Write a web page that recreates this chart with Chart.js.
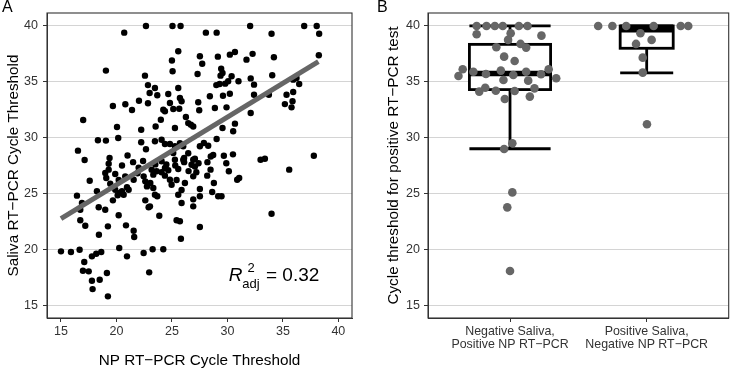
<!DOCTYPE html>
<html><head><meta charset="utf-8">
<script src="https://cdn.jsdelivr.net/npm/chart.js@4.4.1/dist/chart.umd.min.js"></script>
<style>
html,body{margin:0;padding:0;background:#fff;}
#wrap{position:relative;width:733px;height:370px;overflow:hidden;background:#fff;}
canvas{position:absolute;top:0;}
.lab{position:absolute;top:-1px;font:16px "Liberation Sans",Arial,sans-serif;line-height:1;color:#000;}
</style></head><body>
<div id="wrap">
<canvas id="cA" width="366" height="370" style="left:0;width:366px;height:370px"></canvas>
<canvas id="cB" width="367" height="370" style="left:366px;width:367px;height:370px"></canvas>
<div class="lab" style="left:2px">A</div>
<div class="lab" style="left:377px">B</div>
</div>
<script>
// ---- Panel A data: NP vs saliva cycle thresholds ----
const npCt = [20.7,22.66,25.05,25.78,28.06,29.03,32.05,33.98,36.92,38.05,38.27,19.05,22.57,22.84,22.99,19.68,20.8,21.4,22.03,22.84,17.0,20.05,22.23,18.33,19.05,20.16,22.23,22.66,16.53,17.13,19.38,19.3,25.57,27.52,25.0,27.73,29.14,30.22,30.68,31.72,32.27,25.06,27.31,29.44,29.56,29.38,30.38,30.07,29.0,29.3,29.8,31.0,30.22,29.6,28.42,32.1,32.4,32.4,23.47,23.68,24.67,25.57,25.72,25.87,24.82,25.12,25.66,27.37,27.46,28.87,29.92,32.1,24.0,24.37,24.22,26.26,26.47,26.71,26.92,23.53,25.27,29.56,30.68,30.52,23.47,24.07,24.37,24.82,25.27,26.02,27.52,27.88,28.27,29.03,29.68,24.07,25.12,25.27,26.02,26.1,26.92,27.07,34.19,38.24,34.04,33.74,35.93,36.23,36.47,35.33,35.93,35.18,35.87,35.78,32.99,33.38,37.79,35.57,33.98,19.3,18.99,19.08,17.59,19.89,19.44,19.89,20.29,20.11,20.79,20.95,21.55,20.5,20.65,21.1,22.45,22.6,22.75,23.05,16.44,16.89,16.74,18.24,18.4,18.99,19.68,22.6,22.9,16.74,17.19,20.2,19.23,20.86,21.55,21.6,18.42,15.0,15.9,16.68,17.79,18.18,18.63,20.25,20.95,22.45,17.1,16.98,17.5,19.14,17.79,18.49,17.85,19.23,22.95,23.26,24.22,23.32,23.47,23.68,23.02,23.86,25.57,25.87,26.92,25.42,25.72,27.52,25.81,23.17,23.32,23.62,24.07,24.37,24.67,24.37,24.82,24.97,25.57,26.17,26.92,26.77,27.52,27.52,28.18,28.48,28.78,28.63,29.17,29.47,30.13,30.88,31.06,26.92,23.5,24.5,25.3,26.1,27.4,28.5,28.2,21.5,22.0,20.5,21.0,20.2,21.9,22.4,26.5,27.2,29.9,30.5,28.72,25.72,26.47,27.07,25.42,25.87];
const salivaCt = [39.4,40,40,40,39.4,39.4,40,39.3,40,40,39.3,36.0,35.55,34.7,34.0,32.83,32.98,32.47,33.3,33.07,31.58,30.95,30.7,29.76,29.73,29.96,29.58,28.95,28.83,27.99,28.17,27.66,37.73,37.28,36.9,36.62,37.25,37.43,37.67,36.98,37.5,35.94,35.7,36.17,35.79,35.55,35.49,35.04,34.7,34.8,34.83,35.04,33.93,33.75,33.7,35.3,34.74,33.84,34.44,33.79,33.9,34.44,33.55,33.25,33.1,32.56,32.59,33.16,32.45,32.65,32.71,32.2,31.6,32.36,32.5,31.85,31.3,31.16,31.0,31.0,30.86,30.86,31.25,30.57,29.67,29.8,29.43,29.43,29.22,29.22,29.22,29.52,29.27,29.87,28.38,27.88,28.62,28.02,28.02,28.17,28.02,28.11,37.19,37.37,35.58,33.84,35.19,35.34,34.8,33.84,34.09,33.0,33.25,32.71,28.02,28.11,28.38,27.13,23.18,27.13,26.83,26.38,26.14,26.74,25.87,25.33,25.04,24.83,26.53,25.55,26.23,25.19,24.88,25.33,26.53,26.08,25.63,25.93,24.8,24.14,23.54,25.19,23.76,23.54,24.38,24.38,23.76,22.59,22.1,23.04,22.05,22.14,21.66,21.09,21.3,19.81,19.75,19.95,19.36,19.6,19.75,20.11,19.36,19.66,18.85,18.07,18.02,17.87,17.18,17.27,16.43,15.78,17.93,20.0,20.0,25.48,24.88,24.74,23.84,23.0,24.88,24.14,23.84,22.59,22.5,21.99,20.94,27.13,26.68,26.98,26.89,27.28,27.07,26.59,26.23,25.78,27.19,25.93,26.53,27.57,25.4,24.74,26.59,27.13,25.93,25.13,24.74,24.74,26.98,26.23,26.38,24.47,27.6,27.6,27.5,27.8,27.7,28.3,27.8,27.8,27.3,27.5,28.4,26.2,26.8,27.9,27.0,26.9,27.7,28.5,28.44,29.49,28.6,27.4,26.2,25.3];
// fitted regression line
const fitNp = [15.0, 38.2];
const fitSaliva = [22.75, 36.8];
const r2Text = "= 0.32";
// tick labels
const xTicksA = [15, 20, 25, 30, 35, 40];
const yTicks = [15, 20, 25, 30, 35, 40];

// ---- Panel B data ----
const groupLabels = [["Negative Saliva,", "Positive NP RT−PCR"], ["Positive Saliva,", "Negative NP RT−PCR"]];
const groupPos = [0.756,0.828,0.889,0.947,1.065,1.128,0.756,1.005,1.23,0.986,0.9,1.077,1.118,0.957,1.034,0.654,0.732,0.623,0.824,0.933,0.952,1.024,1.118,1.133,1.227,1.283,1.338,0.775,0.819,0.896,1.034,1.179,0.962,1.145,1.017,0.957,1.017,0.98,1.0,
  1.645,1.749,1.85,2.051,2.249,2.304,1.954,1.922,2.036,1.971,1.971,2.002];
const groupCt = [40,40,40,40,40,40,39.25,39.34,39.13,38.75,38.09,38.39,38.06,37.25,36.86,36.12,35.9,35.52,35.7,36.0,35.16,35.61,35.9,35.1,35.67,36.12,35.31,34.12,34.47,34.2,34.17,34.41,33.46,33.67,29.49,28.98,25.09,23.75,18.05,
  40,40,40,40,40,40,39.34,38.39,38.75,37.16,35.82,31.19];
const boxQ1 = [34.3, 38.0];
const boxMedian = [35.75, 39.65];
const boxQ3 = [38.35, 40.0];
const whiskerLow = [29.0, 35.8];
const whiskerHigh = [40.0, 40.0];

const FAM = '"Liberation Sans", Arial, sans-serif';
const TICKCOL = '#333';

const framePlugin = {
  id: 'frame',
  afterDraw(chart) {
    const {ctx, chartArea: a} = chart;
    ctx.save();
    ctx.strokeStyle = '#333';
    ctx.lineWidth = 1.1;
    ctx.strokeRect(a.left, a.top, a.right - a.left, a.bottom - a.top);
    ctx.restore();
  }
};

const r2Plugin = {
  id: 'r2',
  afterDatasetsDraw(chart) {
    const {ctx, scales: {x, y}} = chart;
    const cx = x.getPixelForValue(34.2);
    const base = y.getPixelForValue(17.15);
    const big = 19, small = 13;
    ctx.save();
    ctx.fillStyle = '#000';
    ctx.textBaseline = 'alphabetic';
    ctx.font = 'italic ' + big + 'px ' + FAM;
    const wR = ctx.measureText('R').width;
    ctx.font = small + 'px ' + FAM;
    const w2 = ctx.measureText('2').width;
    const wAdj = ctx.measureText('adj').width;
    ctx.font = big + 'px ' + FAM;
    const wRest = ctx.measureText(' ' + r2Text).width;
    const wMid = Math.max(w2, wAdj) + 1;
    const total = wR + wMid + wRest;
    let x0 = cx - total / 2;
    ctx.font = 'italic ' + big + 'px ' + FAM;
    ctx.fillText('R', x0, base);
    x0 += wR;
    ctx.font = small + 'px ' + FAM;
    ctx.fillText('2', x0 + (wAdj - w2) / 2, base - 9);
    ctx.fillText('adj', x0, base + 7);
    x0 += wMid;
    ctx.font = big + 'px ' + FAM;
    ctx.fillText(' ' + r2Text, x0, base);
    ctx.restore();
  }
};

const boxPlugin = {
  id: 'boxes',
  beforeDatasetsDraw(chart) {
    const {ctx, scales: {x, y}} = chart;
    const unit = x.getPixelForValue(1) - x.getPixelForValue(0);
    const halfW = [0.297, 0.194];
    ctx.save();
    ctx.strokeStyle = '#000';
    ctx.lineCap = 'butt';
    for (let i = 0; i < boxQ1.length; i++) {
      const cx = x.getPixelForValue(i + 1);
      const hw = halfW[i] * unit;
      const yq1 = y.getPixelForValue(boxQ1[i]);
      const yq3 = y.getPixelForValue(boxQ3[i]);
      const ymed = y.getPixelForValue(boxMedian[i]);
      const ylo = y.getPixelForValue(whiskerLow[i]);
      const yhi = y.getPixelForValue(whiskerHigh[i]);
      ctx.lineWidth = 2.8;
      ctx.beginPath();
      ctx.moveTo(cx, yq1); ctx.lineTo(cx, ylo);
      ctx.moveTo(cx, yq3); ctx.lineTo(cx, yhi);
      ctx.moveTo(cx - hw, ylo); ctx.lineTo(cx + hw, ylo);
      ctx.moveTo(cx - hw, yhi); ctx.lineTo(cx + hw, yhi);
      ctx.stroke();
      ctx.fillStyle = '#fff';
      ctx.fillRect(cx - hw, yq3, 2 * hw, yq1 - yq3);
      ctx.strokeRect(cx - hw, yq3, 2 * hw, yq1 - yq3);
      ctx.lineWidth = 5.5;
      ctx.beginPath();
      ctx.moveTo(cx - hw, ymed); ctx.lineTo(cx + hw, ymed);
      ctx.stroke();
    }
    ctx.restore();
  }
};

function yScale(widthPx, titleText, titlePadTop, tickPad) {
  return {
    type: 'linear', min: 13.84, max: 41.16,
    afterBuildTicks: s => { s.ticks = yTicks.map(v => ({value: v})); },
    afterFit: s => { s.width = widthPx; },
    grid: {color: '#d4d4d4', lineWidth: 1, tickLength: 4, tickColor: '#333', tickWidth: 1},
    border: {display: true, color: '#333', width: 1},
    ticks: {font: {family: FAM, size: 12.5, lineHeight: 1.2}, color: TICKCOL, padding: tickPad},
    title: {display: true, text: titleText, color: '#000', font: {family: FAM, size: 15.3, lineHeight: 1.2}, padding: {top: titlePadTop, bottom: 0}}
  };
}

new Chart(document.getElementById('cA'), {
  type: 'scatter',
  data: {
    datasets: [
      {type: 'line', data: fitNp.map((v, i) => ({x: v, y: fitSaliva[i]})), borderColor: '#666', borderWidth: 5, pointRadius: 0, borderCapStyle: 'butt', order: 0, tension: 0},
      {data: npCt.map((v, i) => ({x: v, y: salivaCt[i]})), backgroundColor: '#000', borderWidth: 0, pointRadius: 3.2, pointHoverRadius: 3.2, order: 1}
    ]
  },
  options: {
    responsive: false, animation: false, devicePixelRatio: 1,
    layout: {padding: {left: 0, top: 13, right: 14, bottom: 0}},
    plugins: {legend: {display: false}, tooltip: {enabled: false}},
    scales: {
      x: {
        type: 'linear', min: 13.74, max: 41.23,
        afterBuildTicks: s => { s.ticks = xTicksA.map(v => ({value: v})); },
        afterFit: s => { s.height = 52; },
        grid: {drawOnChartArea: false, tickLength: 4, tickColor: '#333', tickWidth: 1},
        border: {display: true, color: '#333', width: 1},
        ticks: {font: {family: FAM, size: 12.5, lineHeight: 1.2}, color: TICKCOL, padding: 2, maxRotation: 0},
        title: {display: true, text: 'NP RT−PCR Cycle Threshold', color: '#000', font: {family: FAM, size: 15.3, lineHeight: 1.2}, padding: {top: 0, bottom: 0}}
      },
      y: yScale(47, 'Saliva RT−PCR Cycle Threshold', 5, 5)
    }
  },
  plugins: [r2Plugin, framePlugin]
});

new Chart(document.getElementById('cB'), {
  type: 'scatter',
  data: {
    datasets: [
      {data: groupPos.map((v, i) => ({x: v, y: groupCt[i]})), backgroundColor: '#666', borderWidth: 0, pointRadius: 4.3, pointHoverRadius: 4.3}
    ]
  },
  options: {
    responsive: false, animation: false, devicePixelRatio: 1,
    layout: {padding: {left: 0, top: 13, right: 1, bottom: 0}},
    plugins: {legend: {display: false}, tooltip: {enabled: false}},
    scales: {
      x: {
        type: 'linear', min: 0.4, max: 2.6,
        afterBuildTicks: s => { s.ticks = groupLabels.map((g, i) => ({value: i + 1})); },
        afterFit: s => { s.height = 52; },
        grid: {drawOnChartArea: false, tickLength: 4, tickColor: '#333', tickWidth: 1},
        border: {display: true, color: '#333', width: 1},
        ticks: {font: {family: FAM, size: 12.4, lineHeight: 1.05}, color: TICKCOL, padding: 3, maxRotation: 0, autoSkip: false,
          callback: (v, i) => groupLabels[i]}
      },
      y: yScale(62, 'Cycle threshold for positive RT−PCR test', 19, 4)
    }
  },
  plugins: [boxPlugin, framePlugin]
});
</script>
</body></html>
